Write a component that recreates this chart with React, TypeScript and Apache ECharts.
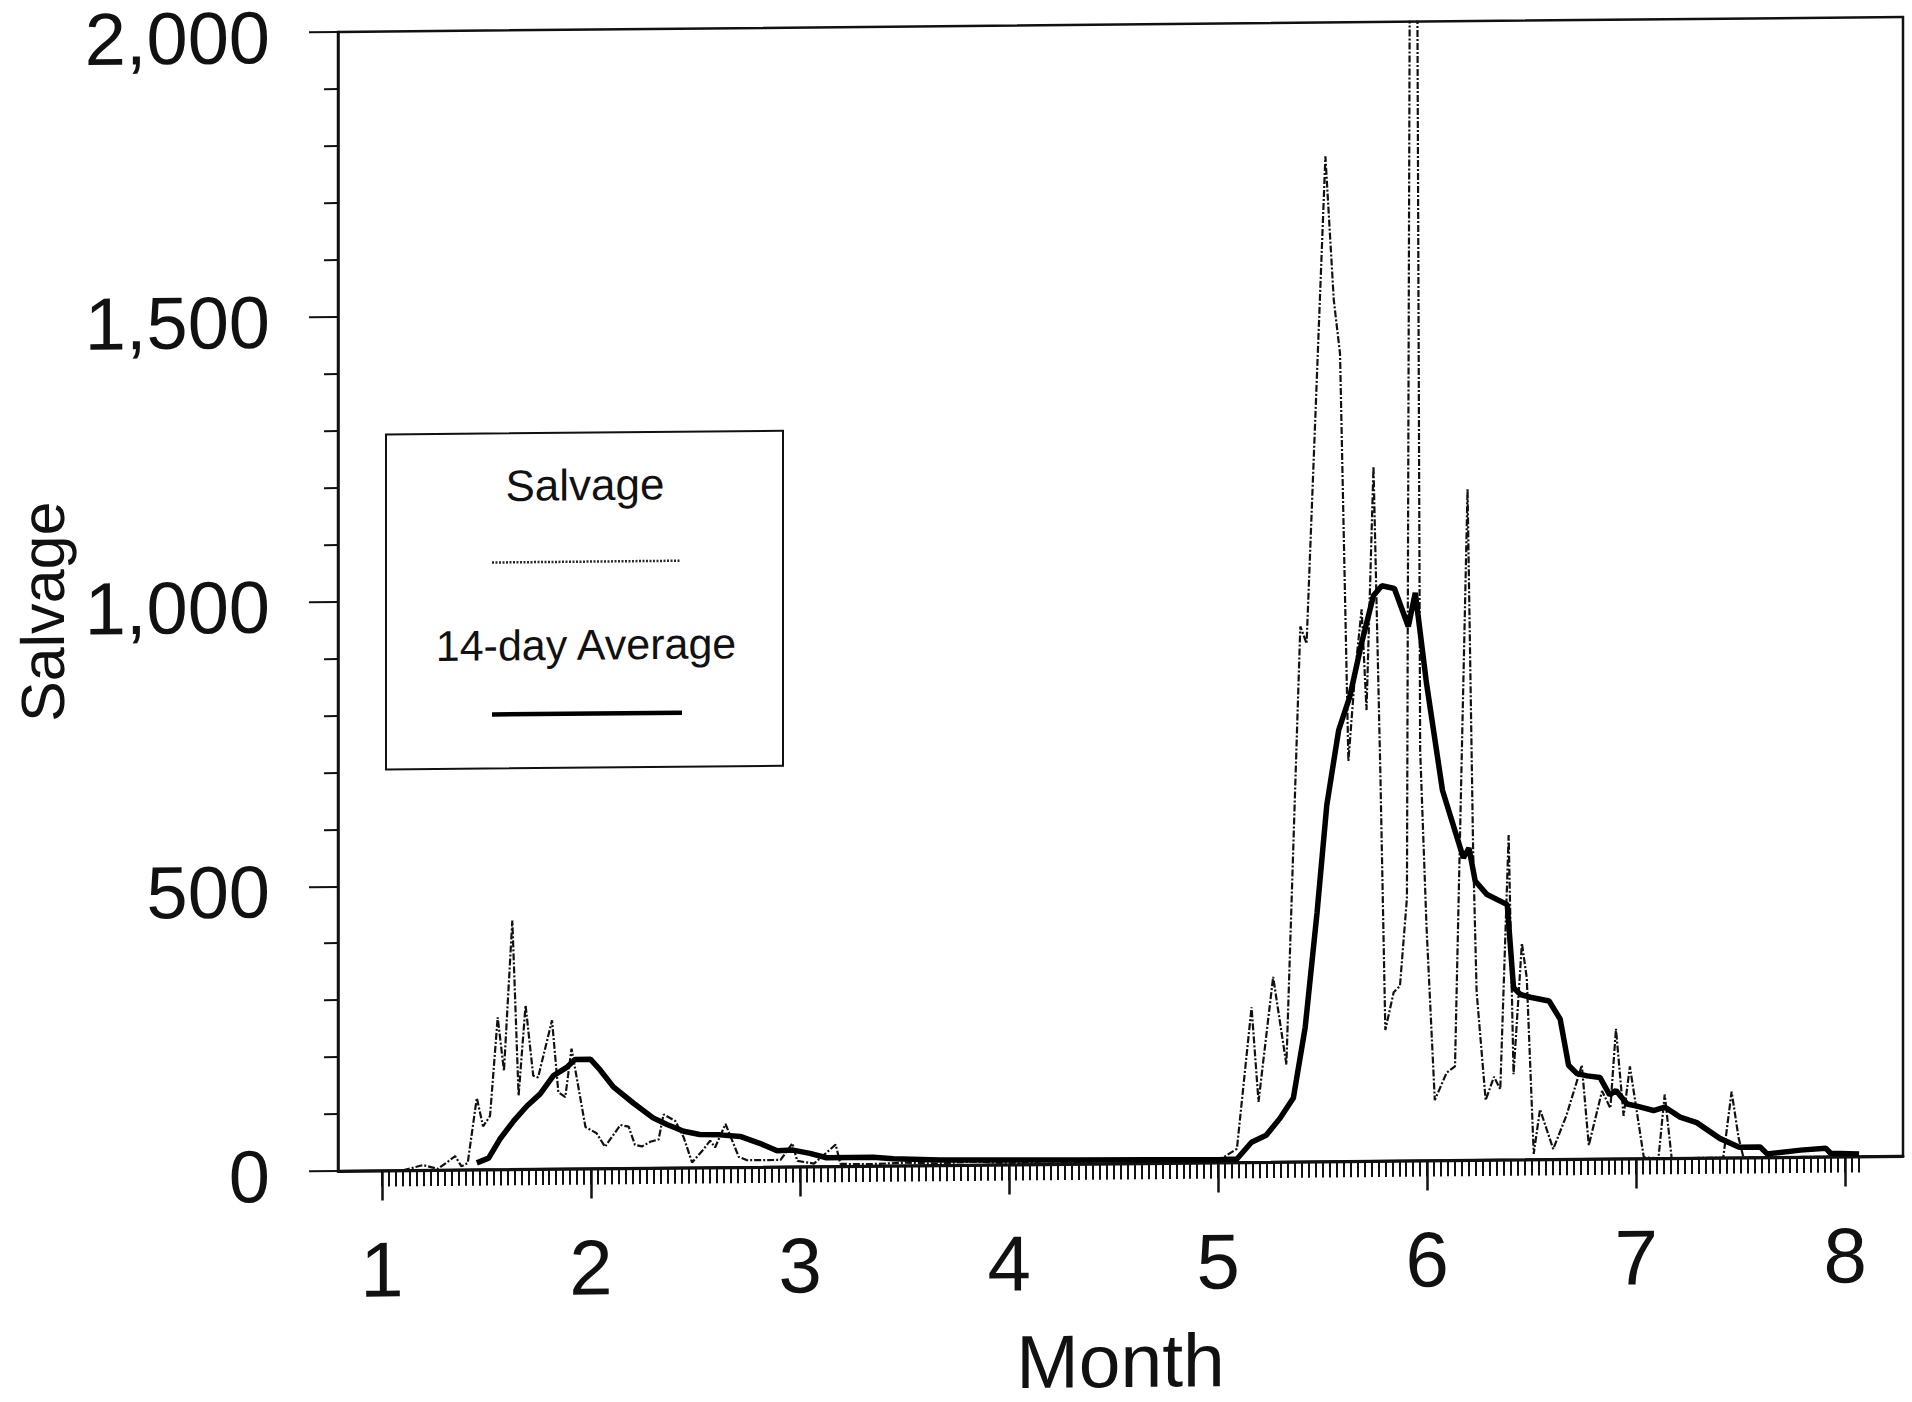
import React, { useEffect, useRef } from "react";
import * as echarts from "echarts";

// x values are days counted from the start of month 1 (the axis has 30 day ticks per month)
const salvageDays = [
  3, 5.9, 8, 9.5, 10.5, 11.4, 12.3, 13.6, 14.5, 15.5, 16.6, 17.5, 18.7, 19.6, 20.6, 21.7, 22.4, 24.4, 25.3, 26.3,
  27.2, 29.2, 30.8, 32.0, 34.2, 35.4, 36.3, 37.3, 38.5, 39.7, 40.4, 42.1, 43.3, 44.5, 46, 47.1, 47.8, 49.3, 51.2,
  52.4, 54.3, 57.2, 58.9, 59.6, 62, 65.1, 65.8, 70, 75, 80, 85, 90, 95, 100, 105, 110, 115, 120, 122.7, 124.8,
  125.8, 127.9, 129.8, 131.8, 132.7, 135.4, 136.6, 137.5, 138.7, 139.7, 140.6, 141.3, 142.3, 143.3, 144.0, 145.2,
  146.1, 147.1, 148.0, 149.0, 149.9, 151.1, 152.8, 154.0, 155.8, 156.6, 157.1, 158.4, 159.6, 160.5, 161.7, 162.4,
  163.6, 164.3, 165.3, 166.2, 168.1, 170.0, 172.2, 173.2, 175.1, 176.3, 177.1, 178.2, 179.1, 181.1, 183.2, 184.1,
  185.1, 192.5, 193.7, 194.7, 195.4, 212,
];
const salvageValues = [
  0, 9, 2, 15, 24, 6, 12, 126, 76, 94, 267, 173, 437, 129, 288, 164, 161, 261, 135, 126,
  211, 73, 62, 38, 76, 73, 41, 38, 46, 50, 94, 82, 53, 9, 30, 47, 35, 76, 18,
  12, 12, 12, 41, 10, 5, 38, 4, 3, 5, 3, 6, 2, 5, 3, 6, 2, 4, 3, 24, 272,
  106, 325, 171, 940, 910, 1765, 1513, 1418, 703, 863, 969, 792, 1220, 674, 230, 296,
  307, 461, 4000, 721, 414, 106, 154, 165, 1178, 544, 296, 105, 146, 124, 570, 150,
  380, 319, 10, 88, 18, 77, 165, 24, 119, 89, 228, 75, 162, 2, 0, 112,
  0, 0, 116, 35, 0, 0,
];

const avgDays = [
  13.6, 15.3, 16.9, 18.9, 20.8, 22.7, 24.6, 26.5, 27.7, 29.9, 31.3, 33.2, 36.1, 38.9, 40.9, 43.3, 45.6, 48.5,
  51.4, 54.3, 56.7, 59.0, 61.4, 63.8, 67.2, 70.5, 73.4, 80, 90, 100, 110, 120, 122.7, 124.8, 126.9, 128.9,
  130.8, 132.5, 134.2, 135.6, 137.3, 138.9, 140.6, 142.3, 143.5, 145.3, 147.3, 148.3, 149.9, 152.2, 155.2,
  156.0, 156.9, 158.6, 161.5, 162.4, 163.4, 164.8, 167.5, 169.1, 170.3, 171.5, 173.0, 174.8, 176.2, 177.1,
  178.7, 180.1, 182.5, 184.1, 186.3, 188.7, 192.0, 194.8, 197.8, 198.8, 203.6, 207.2, 207.9, 212,
];
const avgValues = [
  12, 20, 53, 85, 111, 132, 164, 178, 192, 192, 173, 143, 114, 88, 76, 64, 58, 57,
  54, 41, 28, 29, 23, 15, 15, 15, 12, 9, 8, 7, 6, 5, 6, 35, 47, 77,
  112, 236, 437, 626, 757, 816, 910, 993, 1010, 1005, 938, 997, 839, 650, 531,
  548, 490, 466, 448, 302, 290, 285, 278, 246, 165, 150, 146, 143, 112, 120,
  96, 92, 84, 90, 72, 62, 34, 18, 18, 6, 12, 15, 6, 4,
];

const monthTickDays = [0, 30, 60, 90, 120, 150, 180, 210];
const monthLabels = ["1", "2", "3", "4", "5", "6", "7", "8"];
const dayTicks = Array.from({ length: 213 }, (_, i) => i);

const X_MIN = -6.32;
const X_MAX = 218.3;
const FONT = '"Liberation Sans", Arial, Helvetica, sans-serif';
const INK = "#111111";

export default function App() {
  const ref = useRef<HTMLDivElement>(null);

  useEffect(() => {
    if (!ref.current) return;
    const chart = echarts.init(ref.current, undefined, { renderer: "svg" });
    const option: any = {
      animation: false,
      backgroundColor: "#ffffff",
      grid: {
        left: 338,
        right: 9,
        top: 32,
        bottom: 231,
        containLabel: false,
        outerBoundsMode: "none",
        show: true,
        borderColor: INK,
        borderWidth: 2.5,
        backgroundColor: "transparent",
      },
      xAxis: [
        {
          type: "value",
          min: X_MIN,
          max: X_MAX,
          position: "bottom",
          name: "Month",
          nameLocation: "middle",
          nameGap: 160,
          nameTextStyle: { fontFamily: FONT, fontSize: 75, color: INK },
          axisLine: { show: true, onZero: false, lineStyle: { color: INK, width: 3 } },
          axisTick: { show: true, customValues: monthTickDays, length: 30, lineStyle: { color: INK, width: 2.5 } },
          axisLabel: {
            show: true,
            customValues: monthTickDays,
            formatter: (v: number) => {
              const i = monthTickDays.findIndex((d) => Math.abs(d - v) < 0.5);
              return i >= 0 ? monthLabels[i] : "";
            },
            margin: 60,
            fontFamily: FONT,
            fontSize: 78,
            color: INK,
          },
          splitLine: { show: false },
        },
        {
          type: "value",
          min: X_MIN,
          max: X_MAX,
          position: "bottom",
          axisLine: { show: false, onZero: false },
          axisTick: { show: true, customValues: dayTicks, length: 16, lineStyle: { color: INK, width: 2 } },
          axisLabel: { show: false },
          splitLine: { show: false },
        },
      ],
      yAxis: {
        type: "value",
        min: 0,
        max: 2000,
        interval: 500,
        position: "left",
        name: "Salvage",
        nameLocation: "middle",
        nameRotate: 90,
        nameGap: 265,
        nameTextStyle: { fontFamily: FONT, fontSize: 61, color: INK, padding: [0, 15, 0, 0] },
        axisLine: { show: true, onZero: false, lineStyle: { color: INK, width: 2.5 } },
        axisTick: { show: true, length: 29, lineStyle: { color: INK, width: 2 } },
        minorTick: { show: true, splitNumber: 5, length: 14, lineStyle: { color: INK, width: 2 } },
        axisLabel: {
          margin: 68,
          fontFamily: FONT,
          fontSize: 74,
          lineHeight: 10,
          verticalAlign: "top",
          color: INK,
          formatter: (v: number) => v.toLocaleString("en-US"),
        },
        splitLine: { show: false },
        minorSplitLine: { show: false },
      },
      series: [
        {
          name: "Salvage",
          type: "line",
          xAxisIndex: 0,
          data: salvageDays.map((d, i) => [d, salvageValues[i]]),
          showSymbol: false,
          symbol: "none",
          clip: true,
          lineStyle: { color: "#111111", width: 2.2, type: [7, 2, 2, 2] },
          z: 2,
        },
        {
          name: "14-day Average",
          type: "line",
          xAxisIndex: 0,
          data: avgDays.map((d, i) => [d, avgValues[i]]),
          showSymbol: false,
          symbol: "none",
          clip: true,
          lineStyle: { color: "#000000", width: 5.5 },
          z: 3,
        },
      ],
      graphic: [
        {
          type: "rect",
          z: 100,
          shape: { x: 386, y: 435, width: 397, height: 335 },
          style: { fill: "#ffffff", stroke: INK, lineWidth: 2 },
        },
        {
          type: "text",
          z: 101,
          x: 585,
          y: 487,
          style: { text: "Salvage", font: `44px ${FONT}`, fill: INK, textAlign: "center", textVerticalAlign: "middle" },
        },
        {
          type: "line",
          z: 101,
          shape: { x1: 492, y1: 564, x2: 680, y2: 564 },
          style: { stroke: "#2a2a2a", lineWidth: 2.5, lineDash: [2, 1.5] },
        },
        {
          type: "text",
          z: 101,
          x: 586,
          y: 647,
          style: { text: "14-day Average", font: `43px ${FONT}`, fill: INK, textAlign: "center", textVerticalAlign: "middle" },
        },
        {
          type: "line",
          z: 101,
          shape: { x1: 492, y1: 716, x2: 682, y2: 716 },
          style: { stroke: "#000000", lineWidth: 4.5 },
        },
      ],
    };
    chart.setOption(option);
    return () => chart.dispose();
  }, []);

  return (
    <div
      ref={ref}
      style={{
        position: "absolute",
        left: 0,
        top: 0,
        width: 1912,
        height: 1402,
        background: "#ffffff",
        transform: "skewY(-0.55deg)",
        transformOrigin: "338px 0px",
      }}
    />
  );
}
